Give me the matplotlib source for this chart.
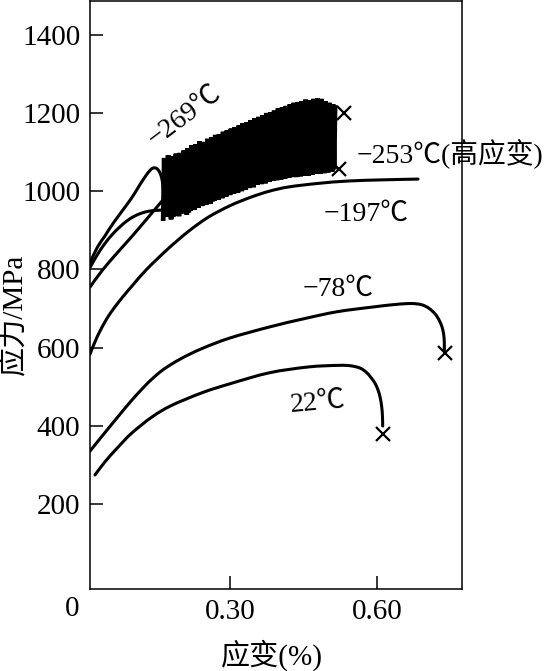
import matplotlib
matplotlib.use("Agg")
import matplotlib.pyplot as plt
from matplotlib.path import Path
from matplotlib.patches import PathPatch

plt.rcParams['font.family'] = ['Liberation Serif', 'Noto Sans CJK SC', 'DejaVu Sans']
plt.rcParams['axes.unicode_minus'] = True

# ---- data (strain %, stress MPa) ----
hump_x = [0.0149, 0.030, 0.045, 0.0556, 0.070, 0.0902, 0.105, 0.1157, 0.124, 0.130,
          0.137, 0.143, 0.149, 0.154, 0.158, 0.161, 0.163, 0.1645, 0.1655]
hump_y = [817, 857, 885, 906, 932, 966, 993, 1015, 1031, 1042,
          1053, 1059, 1059, 1054, 1045, 1033, 1018, 1000, 980]

lowb_x = [0.0149, 0.030, 0.045, 0.060, 0.075, 0.090, 0.105, 0.120, 0.135, 0.150, 0.165]
lowb_y = [805, 838, 866, 889, 908, 924, 936, 944, 949, 951, 952]

lowc_x = [0.0149, 0.040, 0.070, 0.095, 0.117, 0.140, 0.165]
lowc_y = [755, 798, 842, 877, 909, 943, 980]

c197_x = [0.0149, 0.025, 0.035, 0.050, 0.066, 0.085, 0.102, 0.130, 0.174, 0.215,
          0.255, 0.300, 0.341, 0.380, 0.420, 0.480, 0.540, 0.610, 0.683]
c197_y = [584, 615, 642, 676, 705, 735, 760, 800, 853, 897,
          933, 963, 984, 1000, 1011, 1020, 1026, 1029, 1031]

c78_x = [0.0149, 0.040, 0.070, 0.100, 0.125, 0.141, 0.165, 0.200, 0.243,
         0.300, 0.380, 0.450, 0.518, 0.590, 0.640, 0.670, 0.690, 0.705, 0.718,
         0.727, 0.733, 0.736, 0.7365, 0.7365]
c78_y = [336, 375, 421, 466, 500, 520, 545, 572, 598,
         625, 653, 674, 692, 704, 711, 713, 710, 701, 686,
         668, 648, 625, 603, 589]

c22_x = [0.0251, 0.045, 0.072, 0.100, 0.141, 0.180, 0.243, 0.300, 0.380, 0.460,
         0.520, 0.545, 0.565, 0.578, 0.587, 0.595, 0.6015, 0.606, 0.609, 0.6105, 0.611]
c22_y = [275, 308, 346, 382, 423, 452, 485, 508, 536, 551,
         555, 554, 548, 537, 524, 510, 492, 472, 449, 425, 400]

# serrated flow (-253 C, high strain): strain, serration peaks and troughs
serr_x = [0.164, 0.172, 0.180, 0.188, 0.196, 0.204, 0.212, 0.220, 0.228, 0.236,
          0.244, 0.252, 0.260, 0.268, 0.276, 0.284, 0.292, 0.300, 0.308, 0.316,
          0.324, 0.332, 0.340, 0.348, 0.356, 0.364, 0.372, 0.380, 0.388, 0.396,
          0.404, 0.412, 0.420, 0.428, 0.436, 0.444, 0.452, 0.460, 0.468, 0.476,
          0.484, 0.492, 0.500, 0.508]
serr_hi = [1085, 1092, 1090, 1096, 1098, 1104, 1110, 1118, 1120, 1128,
           1126, 1134, 1138, 1144, 1146, 1152, 1156, 1160, 1164, 1168,
           1174, 1176, 1182, 1186, 1190, 1194, 1200, 1202, 1206, 1212,
           1214, 1218, 1222, 1226, 1228, 1230, 1234, 1232, 1236, 1238,
           1236, 1230, 1226, 1222]
serr_lo = [930, 934, 928, 938, 936, 944, 940, 950, 952, 958,
           962, 966, 968, 975, 978, 982, 986, 990, 994, 996,
           1000, 1004, 1008, 1010, 1016, 1018, 1020, 1024, 1026, 1028,
           1030, 1032, 1034, 1036, 1036, 1038, 1040, 1040, 1042, 1044,
           1044, 1046, 1048, 1050]

frac_x = [0.5324, 0.5222, 0.7378, 0.6117]
frac_y = [1200, 1057, 587, 380]

yticks = [200, 400, 600, 800, 1000, 1200, 1400]
xticks = [0.30, 0.60]
xticklabels = ['0.30', '0.60']


def smooth_path(xs, ys):
    """Catmull-Rom curve through the given points, as cubic Bezier path."""
    pts = list(zip(xs, ys))
    n = len(pts)
    verts = [pts[0]]
    codes = [Path.MOVETO]
    for i in range(n - 1):
        p0 = pts[i - 1] if i > 0 else pts[i]
        p1 = pts[i]
        p2 = pts[i + 1]
        p3 = pts[i + 2] if i + 2 < n else pts[i + 1]
        c1 = (p1[0] + (p2[0] - p0[0]) / 6.0, p1[1] + (p2[1] - p0[1]) / 6.0)
        c2 = (p2[0] - (p3[0] - p1[0]) / 6.0, p2[1] - (p3[1] - p1[1]) / 6.0)
        verts += [c1, c2, p2]
        codes += [Path.CURVE4] * 3
    return Path(verts, codes)


fig = plt.figure(figsize=(5.57, 6.71), dpi=100)
ax = fig.add_axes([90/557, 82/671, 372/557, 588/671])

lw = 2.2
for xs, ys in [(hump_x, hump_y), (lowb_x, lowb_y), (lowc_x, lowc_y),
               (c197_x, c197_y), (c78_x, c78_y), (c22_x, c22_y)]:
    ax.add_patch(PathPatch(smooth_path(xs, ys), fill=False, edgecolor='black',
                           lw=lw, capstyle='round', joinstyle='round'))

# serrated curve: dense zig-zag between troughs and peaks
zx, zy = [], []
for x, lo, hi in zip(serr_x, serr_lo, serr_hi):
    zx += [x, x + 0.002, x + 0.004, x + 0.006]
    zy += [lo, hi, lo + 6, hi - 8]
ax.plot(zx, zy, color='black', lw=3.4, solid_joinstyle='miter')

ax.plot(frac_x, frac_y, linestyle='none', marker='x', color='black', ms=10, mew=1.6)

ax.set_xlim(0.0149, 0.7725)
ax.set_ylim(-16.4, 1486)
ax.set_yticks(yticks)
ax.set_yticklabels([str(v) for v in yticks])
ax.set_xticks(xticks)
ax.set_xticklabels(xticklabels)
ax.tick_params(direction='in', length=9.5, width=1.1, labelsize=21, pad=7,
               top=False, right=False)
for s in ax.spines.values():
    s.set_linewidth(1.1)

fs = 20
ax.text(0.2084, 1192, '−269℃', fontsize=fs, rotation=37, ha='center', va='center',
        rotation_mode='anchor')
ax.text(0.557, 1095, '−253℃(高应变)', fontsize=fs, ha='left', va='center', clip_on=False)
ax.text(0.578, 940, '−197℃', fontsize=fs, ha='center', va='center')
ax.text(0.520, 748, '−78℃', fontsize=fs, ha='center', va='center')
ax.text(0.478, 459, '22℃', fontsize=fs, ha='center', va='center', rotation=5)

fig.text(72.5/557, 1 - 609/671, '0', fontsize=21, ha='center', va='center')
fig.text(272/557, 1 - 655/671, '应变(%)', fontsize=21, ha='center', va='center')
fig.text(14/557, 1 - 314/671, '应力/MPa', fontsize=21, ha='center', va='center', rotation=90)

fig.savefig('out.png', dpi=100)
